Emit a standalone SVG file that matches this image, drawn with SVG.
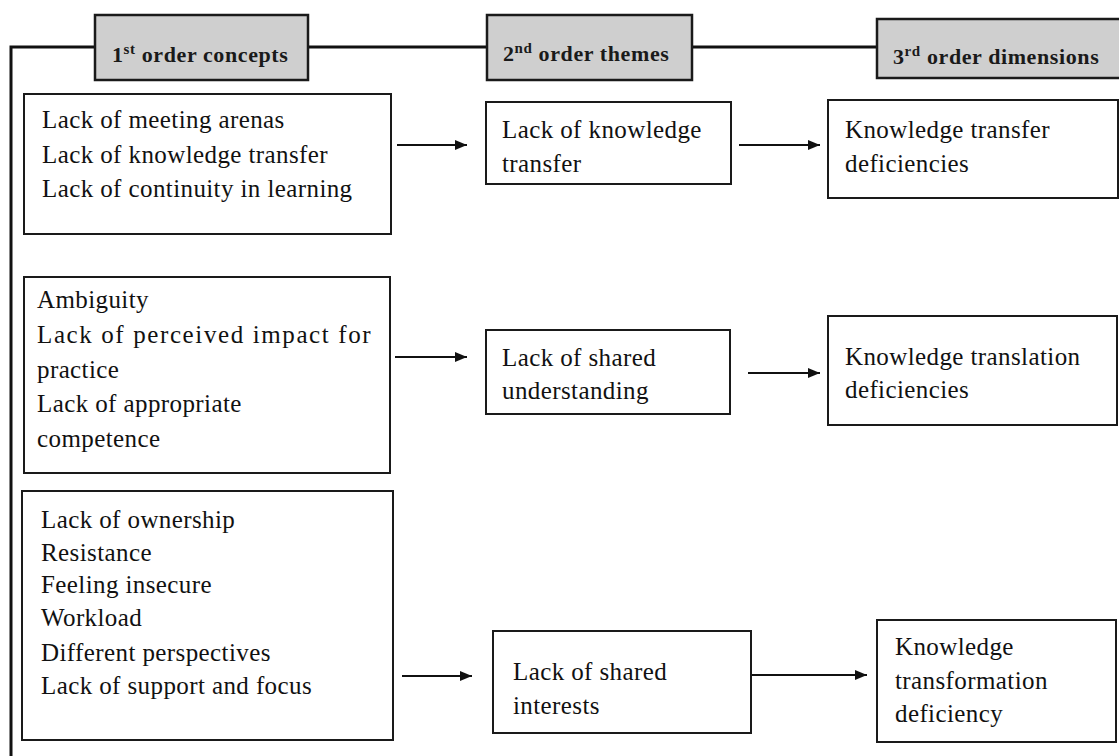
<svg xmlns="http://www.w3.org/2000/svg" width="1119" height="756" viewBox="0 0 1119 756">
<defs>
<style>
.hdr{fill:#cfcfcf;stroke:#1a1a1a;stroke-width:2.5}
.box{fill:#fff;stroke:#1a1a1a;stroke-width:2}
.ht{font-family:"Liberation Serif",serif;font-weight:bold;font-size:22px;letter-spacing:0.6px;fill:#1a1a1a}
.t{font-family:"Liberation Serif",serif;font-size:25px;letter-spacing:0.4px;fill:#111}
.ln{stroke:#111;stroke-width:3;fill:none}
.ar{stroke:#111;stroke-width:2;fill:none;marker-end:url(#ah)}
</style>
<marker id="ah" viewBox="0 0 12 10" refX="12" refY="5" markerWidth="12" markerHeight="10" markerUnits="userSpaceOnUse" orient="auto"><path d="M0,0 L12,5 L0,10 z" fill="#111"/></marker>
</defs>
<rect width="1119" height="756" fill="#fff"/>
<g id="connectors">
<path class="ln" d="M11,756 V47 H1119"/>
<line class="ar" x1="397" y1="145" x2="467" y2="145"/>
<line class="ar" x1="739" y1="145" x2="820" y2="145"/>
<line class="ar" x1="395" y1="357" x2="467" y2="357"/>
<line class="ar" x1="748" y1="373" x2="820" y2="373"/>
<line class="ar" x1="402" y1="676" x2="472" y2="676"/>
<line class="ar" x1="752" y1="675" x2="867" y2="675"/>
</g>
<g id="h1"><rect class="hdr" x="95" y="15" width="213" height="65"/><text class="ht" x="112" y="62">1<tspan font-size="15" dy="-8">st</tspan><tspan dy="8"> order concepts</tspan></text></g>
<g id="h2"><rect class="hdr" x="487" y="15" width="205" height="65"/><text class="ht" x="503" y="61">2<tspan font-size="15" dy="-8">nd</tspan><tspan dy="8"> order themes</tspan></text></g>
<g id="h3"><rect class="hdr" x="877" y="19" width="244" height="59"/><text class="ht" x="893" y="64">3<tspan font-size="15" dy="-8">rd</tspan><tspan dy="8"> order dimensions</tspan></text></g>
<g id="a1"><rect class="box" x="24" y="94" width="367" height="140"/>
<text class="t" x="42" y="128">Lack of meeting arenas</text>
<text class="t" x="42" y="163">Lack of knowledge transfer</text>
<text class="t" x="42" y="197">Lack of continuity in learning</text></g>
<g id="b1"><rect class="box" x="486" y="102" width="245" height="82"/>
<text class="t" x="502" y="138">Lack of knowledge</text>
<text class="t" x="502" y="172">transfer</text></g>
<g id="c1"><rect class="box" x="828" y="100" width="290" height="98"/>
<text class="t" x="845" y="138">Knowledge transfer</text>
<text class="t" x="845" y="172">deficiencies</text></g>
<g id="a2"><rect class="box" x="24" y="277" width="366" height="196"/>
<text class="t" x="37" y="308">Ambiguity</text>
<text class="t" x="37" y="343" textLength="334" lengthAdjust="spacing">Lack of perceived impact for</text>
<text class="t" x="37" y="378">practice</text>
<text class="t" x="37" y="412">Lack of appropriate</text>
<text class="t" x="37" y="447">competence</text></g>
<g id="b2"><rect class="box" x="486" y="330" width="244" height="84"/>
<text class="t" x="502" y="366">Lack of shared</text>
<text class="t" x="502" y="399">understanding</text></g>
<g id="c2"><rect class="box" x="828" y="316" width="289" height="109"/>
<text class="t" x="845" y="365">Knowledge translation</text>
<text class="t" x="845" y="398">deficiencies</text></g>
<g id="a3"><rect class="box" x="22" y="491" width="371" height="249"/>
<text class="t" x="41" y="528">Lack of ownership</text>
<text class="t" x="41" y="561">Resistance</text>
<text class="t" x="41" y="593">Feeling insecure</text>
<text class="t" x="41" y="626">Workload</text>
<text class="t" x="41" y="661">Different perspectives</text>
<text class="t" x="41" y="694">Lack of support and focus</text></g>
<g id="b3"><rect class="box" x="493" y="631" width="258" height="102"/>
<text class="t" x="513" y="680">Lack of shared</text>
<text class="t" x="513" y="714">interests</text></g>
<g id="c3"><rect class="box" x="877" y="620" width="239" height="122"/>
<text class="t" x="895" y="655">Knowledge</text>
<text class="t" x="895" y="689">transformation</text>
<text class="t" x="895" y="722">deficiency</text></g>
</svg>
